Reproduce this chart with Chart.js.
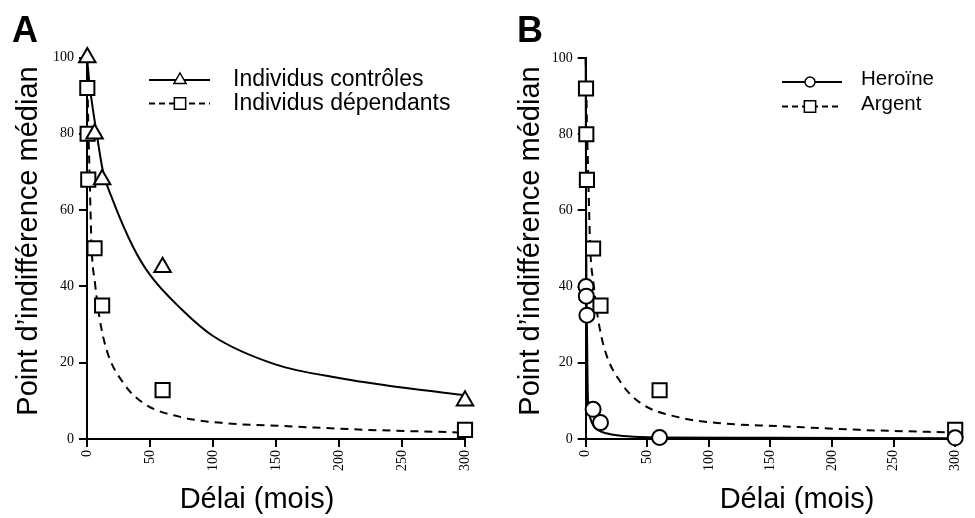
<!DOCTYPE html>
<html>
<head>
<meta charset="utf-8">
<script src="https://cdn.jsdelivr.net/npm/chart.js@4.4.1/dist/chart.umd.min.js"></script>
<style>
html, body { margin: 0; padding: 0; background: #fff; }
#wrap { position: relative; width: 975px; height: 518px; overflow: hidden; }
.panel { position: absolute; top: 0; }
#panelA { left: 0; }
#panelB { left: 488px; }
</style>
</head>
<body>
<div id="wrap">
  <div class="panel" id="panelA"><canvas id="chartA" width="488" height="518"></canvas></div>
  <div class="panel" id="panelB"><canvas id="chartB" width="487" height="518"></canvas></div>
</div>
<script>
// --- data (délai en mois, point d'indifférence) ---
const delays = [0.25, 0.5, 1, 6, 12, 60, 300];
const controlDelays = [0.25, 6, 12, 60, 300];
const controlValues = [100, 80, 68, 45, 10];
const dependentValues = [92, 80, 68, 50, 35, 12.8, 2.4];   // = Argent in B
const heroinValues = [40, 37.5, 32.5, 7.8, 4.3, 0.4, 0.3];

// fitted curves
const controlFitX = [0, 2, 4, 7.7, 12.8, 20, 36.5, 50, 75, 100, 150, 200, 250, 300];
const controlFitY = [100, 93, 88, 80, 70, 63, 50.4, 43, 34, 27, 19.5, 16, 13.5, 11.5];
const dependentFitX = [0, 1, 2, 3.7, 6.3, 9.8, 15.6, 28.8, 44.7, 74, 111, 156, 222, 300];
const dependentFitY = [100, 83, 70, 50, 41, 32, 23.3, 14.7, 9.4, 5.8, 4.1, 3.4, 2.4, 1.7];
const heroinFitX = [0, 0.3, 0.6, 1, 1.5, 2, 3.4, 5, 7, 10, 16.5, 27, 45, 60, 150, 300];
const heroinFitY = [100, 60, 42, 30, 16, 8.5, 5.8, 4.3, 3.2, 2.3, 1.5, 0.9, 0.5, 0.4, 0.3, 0.2];

const xTicks = [0, 50, 100, 150, 200, 250, 300];
const yTicks = [0, 20, 40, 60, 80, 100];

const yTitle = 'Point d\u2019indifférence médian';
const xTitle = 'Délai (mois)';

function pts(xs, ys) { return xs.map((x, i) => ({ x: x, y: ys[i] })); }

function curve(xs, ys, dash) {
    return {
        data: pts(xs, ys), showLine: true, pointRadius: 0, borderColor: '#000',
        borderWidth: 2, borderDash: dash, cubicInterpolationMode: 'monotone',
        fill: false, clip: false, order: 3
    };
}
function marks(xs, ys, style, r) {
    return {
        data: pts(xs, ys), showLine: false, pointStyle: style, pointRadius: r,
        pointBackgroundColor: '#fff', pointBorderColor: '#000', pointBorderWidth: 2,
        clip: false, order: 1
    };
}

function drawMarker(ctx, style, x, y, r) {
    ctx.save();
    ctx.setLineDash([]);
    ctx.fillStyle = '#fff'; ctx.strokeStyle = '#000'; ctx.lineWidth = 1.5;
    ctx.beginPath();
    if (style === 'triangle') {
        ctx.moveTo(x, y - r);
        ctx.lineTo(x + r * 0.866, y + r * 0.5);
        ctx.lineTo(x - r * 0.866, y + r * 0.5);
        ctx.closePath();
    } else if (style === 'rect') {
        ctx.rect(x - r * 0.707, y - r * 0.707, r * 1.414, r * 1.414);
    } else {
        ctx.arc(x, y, r, 0, Math.PI * 2);
    }
    ctx.fill(); ctx.stroke();
    ctx.restore();
}

// letters, axis titles and the line+symbol legend
const panelText = {
    id: 'panelText',
    afterDraw(chart, args, o) {
        const ctx = chart.ctx;
        ctx.save();
        ctx.fillStyle = '#000';
        ctx.textAlign = 'left'; ctx.textBaseline = 'alphabetic';
        ctx.font = 'bold 36px "Liberation Sans", Arial, sans-serif';
        ctx.fillText(o.letter, o.letterX, 42);

        ctx.font = '29px "Liberation Sans", Arial, sans-serif';
        ctx.textAlign = 'center';
        ctx.fillText(xTitle, o.xTitleX, 508);
        ctx.save();
        ctx.translate(o.yTitleX, 241);
        ctx.rotate(-Math.PI / 2);
        ctx.fillText(yTitle, 0, 0);
        ctx.restore();

        ctx.textAlign = 'left';
        ctx.font = o.legendSize + 'px "Liberation Sans", Arial, sans-serif';
        o.legend.forEach(it => {
            ctx.save();
            ctx.strokeStyle = '#000'; ctx.lineWidth = 2;
            ctx.setLineDash(it.dash);
            ctx.beginPath();
            ctx.moveTo(o.lineX1, it.y); ctx.lineTo(o.lineX2, it.y);
            ctx.stroke();
            ctx.restore();
            drawMarker(ctx, it.marker, o.markX, it.y, it.r);
            ctx.fillText(it.text, o.textX, it.base);
        });
        ctx.restore();
    }
};

function axes(left, top, right) {
    const tickFont = { family: '"Liberation Serif", "Times New Roman", serif', size: 14 };
    const grid = { drawOnChartArea: false, drawTicks: true, tickLength: 8, color: '#000', lineWidth: 2 };
    return {
        layout: { padding: { left: 0, top: top, right: right, bottom: 0 } },
        scales: {
            x: {
                type: 'linear', min: 0, max: 300,
                afterBuildTicks: s => { s.ticks = xTicks.map(v => ({ value: v })); },
                ticks: { minRotation: 90, maxRotation: 90, padding: 3, color: '#000', font: tickFont },
                grid: grid, border: { color: '#000', width: 2 },
                afterFit: s => { s.height = 79; }
            },
            y: {
                min: 0, max: 100,
                afterBuildTicks: s => { s.ticks = yTicks.map(v => ({ value: v })); },
                ticks: { padding: 5, color: '#000', font: tickFont },
                grid: grid, border: { color: '#000', width: 2 },
                afterFit: s => { s.width = left; }
            }
        }
    };
}

new Chart(document.getElementById('chartA'), {
    type: 'scatter',
    data: {
        datasets: [
            curve(controlFitX, controlFitY, []),
            curve(dependentFitX, dependentFitY, [8, 6]),
            marks(controlDelays, controlValues, 'triangle', 9.5),
            marks(delays, dependentValues, 'rect', 10)
        ]
    },
    options: Object.assign({
        responsive: false, animation: false,
        plugins: {
            legend: { display: false }, tooltip: { enabled: false },
            panelText: {
                letter: 'A', letterX: 12, xTitleX: 257, yTitleX: 37,
                legendSize: 23, lineX1: 149, lineX2: 210, markX: 180, textX: 233,
                legend: [
                    { y: 80, base: 86, dash: [], marker: 'triangle', r: 7, text: 'Individus contrôles' },
                    { y: 103.5, base: 110, dash: [6, 4], marker: 'rect', r: 8, text: 'Individus dépendants' }
                ]
            }
        }
    }, axes(87, 57.5, 23)),
    plugins: [panelText]
});

new Chart(document.getElementById('chartB'), {
    type: 'scatter',
    data: {
        datasets: [
            curve(heroinFitX, heroinFitY, []),
            curve(dependentFitX, dependentFitY, [8, 6]),
            marks(delays, heroinValues, 'circle', 7.5),
            marks(delays, dependentValues, 'rect', 10)
        ]
    },
    options: Object.assign({
        responsive: false, animation: false,
        plugins: {
            legend: { display: false }, tooltip: { enabled: false },
            panelText: {
                letter: 'B', letterX: 29, xTitleX: 309, yTitleX: 51,
                legendSize: 20.5, lineX1: 294, lineX2: 354, markX: 322, textX: 373,
                legend: [
                    { y: 82, base: 85, dash: [], marker: 'circle', r: 5, text: 'Heroïne' },
                    { y: 106.5, base: 110, dash: [6, 4], marker: 'rect', r: 8, text: 'Argent' }
                ]
            }
        }
    }, axes(97.7, 58, 7.7)),
    plugins: [panelText]
});
</script>
</body>
</html>
